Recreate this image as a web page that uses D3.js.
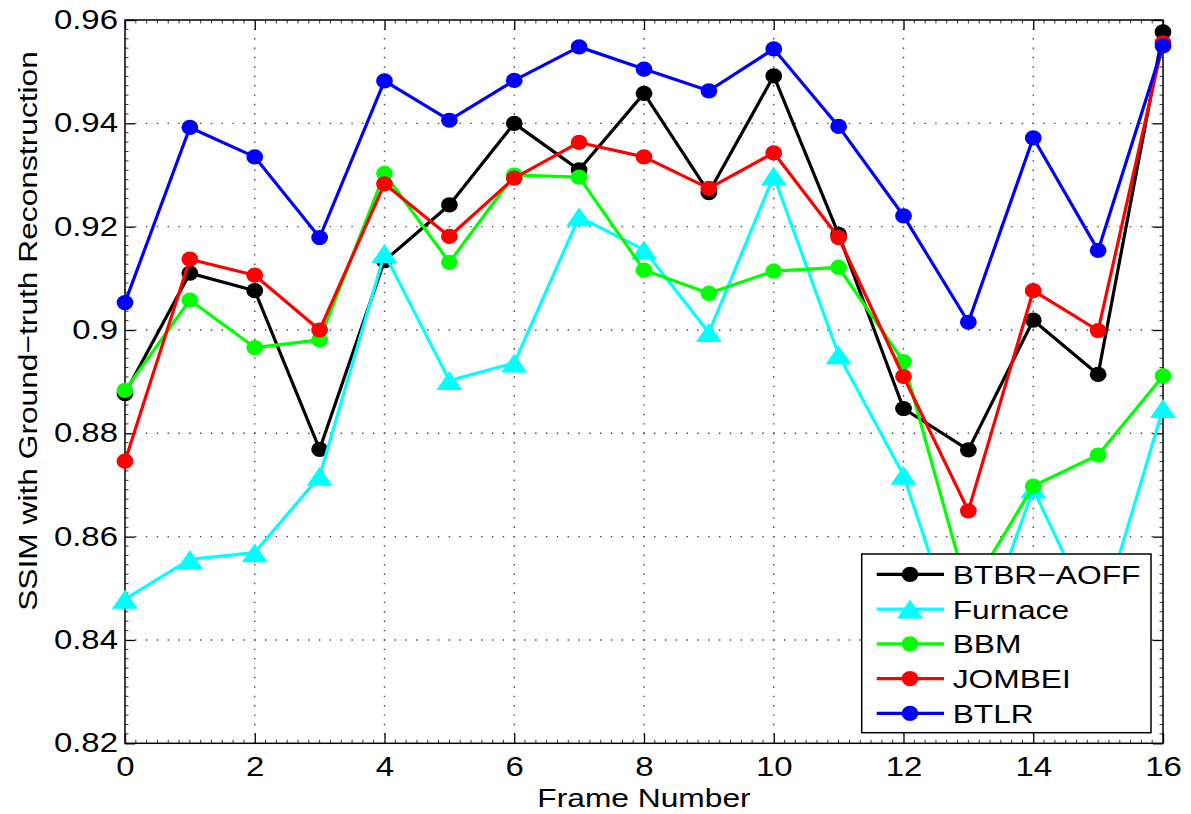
<!DOCTYPE html>
<html>
<head>
<meta charset="utf-8">
<script src="https://cdn.jsdelivr.net/npm/d3@7"></script>
<style>
  html, body { margin: 0; padding: 0; background: #fff; }
  svg { display: block; }
  text { font-family: "Liberation Sans", Arial, Helvetica, sans-serif; fill: #000; }
</style>
</head>
<body>
<svg id="chart" width="1191" height="814"></svg>
<script>
// ---------------- data ----------------
const frames = [0,1,2,3,4,5,6,7,8,9,10,11,12,13,14,15,16];
const btbrAoff = [0.8877,0.9110,0.9076,0.8769,0.9134,0.9242,0.9400,0.9310,0.9458,0.9266,0.9492,0.9185,0.8848,0.8768,0.9019,0.8914,0.9577];
const furnace  = [0.8479,0.8556,0.8569,0.8717,0.9148,0.8902,0.8936,0.9219,0.9155,0.8995,0.9298,0.8952,0.8719,0.8340,0.8692,0.8427,0.8848];
const bbm      = [0.8883,0.9058,0.8966,0.8981,0.9303,0.9131,0.9300,0.9296,0.9116,0.9071,0.9114,0.9121,0.8939,0.8489,0.8698,0.8758,0.8911];
const jombei   = [0.8746,0.9137,0.9106,0.9000,0.9283,0.9181,0.9294,0.9363,0.9335,0.9274,0.9343,0.9179,0.8910,0.8650,0.9076,0.8999,0.9556];
const btlr     = [0.9053,0.9392,0.9335,0.9179,0.9482,0.9406,0.9483,0.9548,0.9505,0.9463,0.9544,0.9394,0.9221,0.9015,0.9372,0.9154,0.9550];
const seriesNames = ["BTBR\u2212AOFF","Furnace","BBM","JOMBEI","BTLR"];
const seriesValues = [btbrAoff, furnace, bbm, jombei, btlr];
const seriesColors = ["#000000","#00ffff","#00ff00","#ff0000","#0000ff"];
const seriesMarkers = ["circle","triangle","circle","circle","circle"];
const xTicks = [0,2,4,6,8,10,12,14,16];
const yTicks = [0.82,0.84,0.86,0.88,0.90,0.92,0.94,0.96];
const yTickLabels = ["0.82","0.84","0.86","0.88","0.9","0.92","0.94","0.96"];
const xLabel = "Frame Number";
const yLabel = "SSIM with Ground\u2212truth Reconstruction";

// ---------------- layout ----------------
const svg = d3.select("#chart");
const L = 125, R = 1163, T = 20, B = 743.3;
const STRETCH = 1.22;
const x = d3.scaleLinear().domain([0,16]).range([L,R]);
const y = d3.scaleLinear().domain([0.82,0.96]).range([B,T]);

function stretch(sel){
  sel.each(function(){
    const len = this.getComputedTextLength();
    d3.select(this).attr("textLength", len*STRETCH).attr("lengthAdjust","spacingAndGlyphs");
  });
}

// grid (dotted)
const xMinorStep = 2/12, yMinorStep = 0.02/11;
const hDot = x(xMinorStep) - x(0);
const vDot = y(0.82) - y(0.82+yMinorStep);
const grid = svg.append("g");
grid.selectAll("line.h").data(yTicks.slice(1,-1)).join("line")
  .attr("x1",L).attr("x2",R).attr("y1",d=>y(d)).attr("y2",d=>y(d))
  .attr("stroke","#444").attr("stroke-width",1.4)
  .attr("stroke-dasharray",`1.4,${hDot-1.4}`).attr("stroke-dashoffset",0.7);
grid.selectAll("line.v").data(xTicks.slice(1,-1)).join("line")
  .attr("x1",d=>x(d)).attr("x2",d=>x(d)).attr("y1",B).attr("y2",T)
  .attr("stroke","#444").attr("stroke-width",1.4)
  .attr("stroke-dasharray",`1.4,${vDot-1.4}`).attr("stroke-dashoffset",0.7);

// minor ticks on all four sides
const xMinor = d3.range(0, 16+1e-9, xMinorStep).filter(v=>Math.abs(v/2-Math.round(v/2))>1e-6);
const yMinor = d3.range(0.82, 0.96+1e-9, yMinorStep).filter(v=>Math.abs(v/0.02-Math.round(v/0.02))>1e-4);
const minor = svg.append("g").attr("stroke","#333").attr("stroke-width",1);
minor.selectAll("line.xb").data(xMinor).join("line")
  .attr("x1",d=>x(d)).attr("x2",d=>x(d)).attr("y1",B).attr("y2",B-3.5);
minor.selectAll("line.xt").data(xMinor).join("line")
  .attr("x1",d=>x(d)).attr("x2",d=>x(d)).attr("y1",T).attr("y2",T+3.5);
minor.selectAll("line.yl").data(yMinor).join("line")
  .attr("y1",d=>y(d)).attr("y2",d=>y(d)).attr("x1",L).attr("x2",L+3.5);
minor.selectAll("line.yr").data(yMinor).join("line")
  .attr("y1",d=>y(d)).attr("y2",d=>y(d)).attr("x1",R).attr("x2",R-3.5);

// axes
const xAxis = svg.append("g").attr("transform",`translate(0,${B})`)
  .call(d3.axisBottom(x).tickValues(xTicks).tickFormat(d3.format("d")).tickSizeInner(-10).tickSizeOuter(0).tickPadding(14));
const yAxis = svg.append("g").attr("transform",`translate(${L},0)`)
  .call(d3.axisLeft(y).tickValues(yTicks).tickFormat((d,i)=>yTickLabels[i]).tickSizeInner(-10).tickSizeOuter(0).tickPadding(7));
const xAxisTop = svg.append("g").attr("transform",`translate(0,${T})`)
  .call(d3.axisTop(x).tickValues(xTicks).tickFormat("").tickSizeInner(-10).tickSizeOuter(0));
const yAxisRight = svg.append("g").attr("transform",`translate(${R},0)`)
  .call(d3.axisRight(y).tickValues(yTicks).tickFormat("").tickSizeInner(-10).tickSizeOuter(0));
[xAxis,yAxis,xAxisTop,yAxisRight].forEach(a=>{
  a.select(".domain").remove();
  a.selectAll(".tick line").attr("stroke","#000").attr("stroke-width",1.3);
});
xAxis.selectAll("text").attr("font-size",27).attr("font-family","Liberation Sans, Arial, sans-serif").attr("fill","#000");
yAxis.selectAll("text").attr("font-size",27).attr("font-family","Liberation Sans, Arial, sans-serif").attr("fill","#000");
stretch(xAxis.selectAll("text"));
stretch(yAxis.selectAll("text"));

// box
svg.append("rect").attr("x",L).attr("y",T).attr("width",R-L).attr("height",B-T)
  .attr("fill","none").attr("stroke","#000").attr("stroke-width",1.5);

// series
const line = d3.line().x((d,i)=>x(frames[i])).y(d=>y(d));
const triPath = "M0,-9.5L13,9.5L-13,9.5Z";
const plot = svg.append("g");
seriesValues.forEach((vals,k)=>{
  const g = plot.append("g");
  g.append("path").datum(vals).attr("d",line)
    .attr("fill","none").attr("stroke",seriesColors[k]).attr("stroke-width",3.2).attr("stroke-linejoin","round");
  if (seriesMarkers[k]==="circle") {
    g.selectAll("ellipse").data(vals).join("ellipse")
      .attr("cx",(d,i)=>x(frames[i])).attr("cy",d=>y(d))
      .attr("rx",8.4).attr("ry",7.6).attr("fill",seriesColors[k]);
  } else {
    g.selectAll("path.m").data(vals).join("path").attr("class","m")
      .attr("d",triPath)
      .attr("transform",(d,i)=>`translate(${x(frames[i])},${y(d)})`)
      .attr("fill",seriesColors[k]);
  }
});

// axis labels
const xl = svg.append("text").attr("x",(L+R)/2).attr("y",806.5).attr("text-anchor","middle")
  .attr("font-size",26).text(xLabel);
stretch(xl);
const yl = svg.append("text").attr("transform",`translate(37,331) rotate(-90)`)
  .attr("text-anchor","middle").attr("font-size",26).text(yLabel);
stretch(yl);

// legend
const lg = svg.append("g");
const lgX = 861.7, lgY = 554, lgW = 289.3, lgH = 178.7;
lg.append("rect").attr("x",lgX).attr("y",lgY).attr("width",lgW).attr("height",lgH)
  .attr("fill","#fff").attr("stroke","#000").attr("stroke-width",1.5);
const rowY = i => 574.3 + i*34.75;
seriesNames.forEach((name,k)=>{
  const ry = rowY(k);
  lg.append("line").attr("x1",876.7).attr("x2",944).attr("y1",ry).attr("y2",ry)
    .attr("stroke",seriesColors[k]).attr("stroke-width",3.2);
  if (seriesMarkers[k]==="circle") {
    lg.append("ellipse").attr("cx",910).attr("cy",ry).attr("rx",8.4).attr("ry",7.6).attr("fill",seriesColors[k]);
  } else {
    lg.append("path").attr("d",triPath).attr("transform",`translate(910,${ry})`).attr("fill",seriesColors[k]);
  }
  const t = lg.append("text").attr("x",952.7).attr("y",ry+9.5).attr("font-size",26).text(name);
  stretch(t);
});
</script>
</body>
</html>
